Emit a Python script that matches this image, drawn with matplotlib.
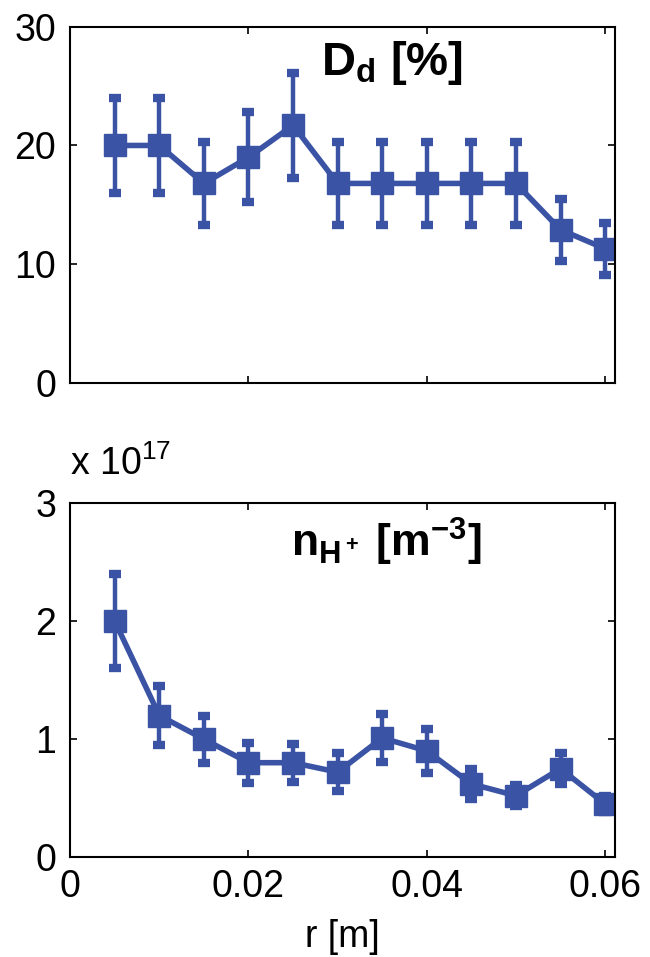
import matplotlib
matplotlib.use("Agg")
import matplotlib.pyplot as plt

plt.rcParams["font.family"] = ["Liberation Sans", "DejaVu Sans"]
plt.rcParams["mathtext.fontset"] = "custom"
plt.rcParams["mathtext.rm"] = "Liberation Sans"
plt.rcParams["mathtext.bf"] = "Liberation Sans:bold"
plt.rcParams["mathtext.it"] = "Liberation Sans:italic"

# radius [m]
r = [0.005, 0.010, 0.015, 0.020, 0.025, 0.030, 0.035, 0.040, 0.045, 0.050, 0.055, 0.060]

# D_d [%]
dd = [20.0, 20.0, 16.8, 19.0, 21.7, 16.8, 16.8, 16.8, 16.8, 16.8, 12.9, 11.3]
dd_err = [4.0, 4.0, 3.5, 3.8, 4.4, 3.5, 3.5, 3.5, 3.5, 3.5, 2.6, 2.2]

# n_H+ [1e17 m^-3]
nh = [2.00, 1.20, 1.00, 0.80, 0.80, 0.72, 1.01, 0.90, 0.62, 0.52, 0.75, 0.45]
nh_err = [0.40, 0.25, 0.20, 0.17, 0.16, 0.16, 0.20, 0.19, 0.13, 0.09, 0.13, 0.07]

COLOR = "#3b53a4"
FS = 27

fig = plt.figure(figsize=(6.5, 9.57), dpi=100)
ax1 = fig.add_axes([0.108, 0.600, 0.838, 0.372])
ax2 = fig.add_axes([0.108, 0.1045, 0.838, 0.3695])

style = dict(color=COLOR, marker="s", markersize=16, lw=4, elinewidth=3.2,
             capsize=4, capthick=6)

ax1.errorbar(r, dd, yerr=dd_err, **style)
ax2.errorbar(r, nh, yerr=nh_err, **style)

for ax in (ax1, ax2):
    ax.set_xlim(0, 0.0611)
    ax.set_xticks([0, 0.02, 0.04, 0.06])
    ax.tick_params(direction="in", top=True, right=True, length=5, width=1.2,
                   labelsize=FS)
    ax.tick_params(axis="y", pad=10)
    ax.tick_params(axis="x", pad=9)
    for s in ax.spines.values():
        s.set_linewidth(1.5)

ax1.set_ylim(0, 30)
ax1.set_yticks([0, 10, 20, 30])
ax1.set_xticklabels([])
ax1.text(0.59, 0.965, r"$\mathbf{D_d}$ [%]", transform=ax1.transAxes,
         ha="center", va="top", fontsize=34, fontweight="bold")

ax2.set_ylim(0, 3)
ax2.set_yticks([0, 1, 2, 3])
ax2.set_xticklabels(["0", "0.02", "0.04", "0.06"])
ax2.set_xlabel("r [m]", fontsize=FS, labelpad=10)
ax2.text(0.58, 0.965, r"$\mathbf{n_{H^+}}$ [$\mathbf{m^{-3}}$]", transform=ax2.transAxes,
         ha="center", va="top", fontsize=32, fontweight="bold")
ax2.text(0.0, 1.08, r"x 10$^{17}$", transform=ax2.transAxes,
         ha="left", va="baseline", fontsize=FS)

fig.savefig("out.png", dpi=100)
